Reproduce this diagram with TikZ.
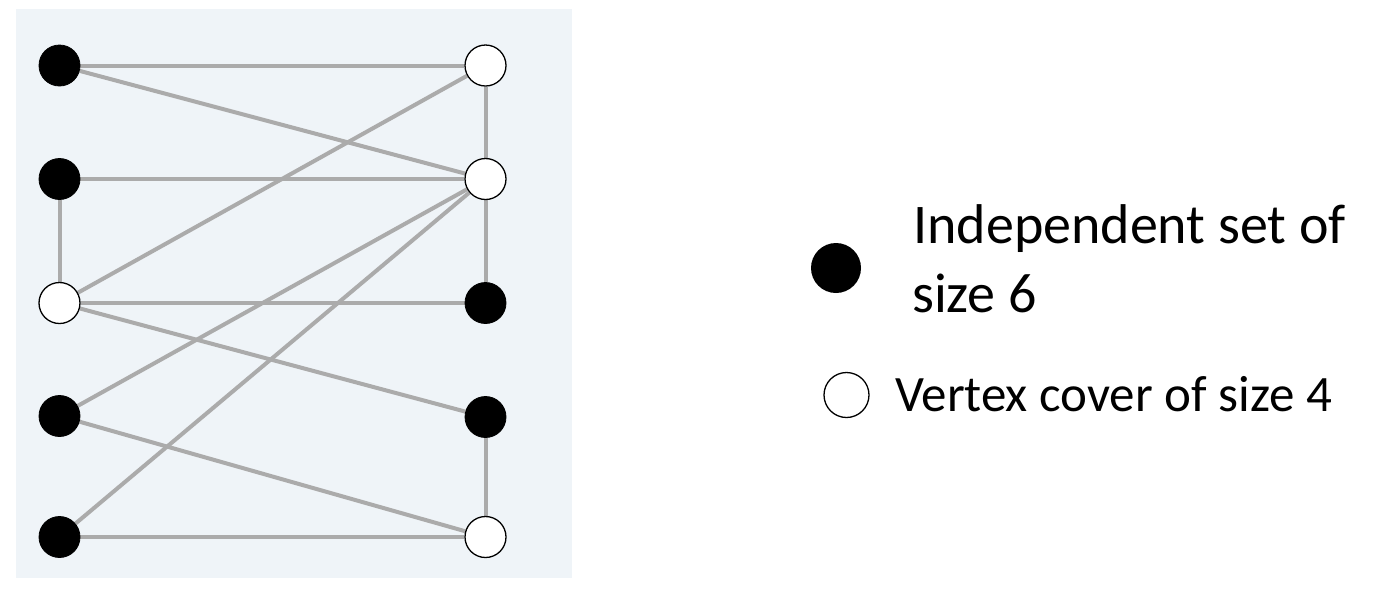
\documentclass[tikz,border=0pt]{standalone}
\usepackage{fontspec}
\setmainfont{Carlito}
\usetikzlibrary{backgrounds}
\definecolor{panelbg}{HTML}{EFF4F8}
\definecolor{edgegray}{HTML}{ABABAB}
\tikzset{
  blackv/.style={circle,fill=black,draw=black,line width=0.8pt,minimum size=41pt,inner sep=0pt},
  whitev/.style={circle,fill=white,draw=black,line width=1.3pt,minimum size=41pt,inner sep=0pt},
  edge/.style={draw=edgegray,line width=4pt},
  legtext/.style={font=\fontsize{56}{67}\selectfont,anchor=base west,inner sep=0pt},
  legtextsmall/.style={font=\fontsize{51}{61}\selectfont,anchor=base west,inner sep=0pt}
}
\begin{document}
\begin{tikzpicture}[x=1pt,y=-1pt]
\useasboundingbox (0,0) rectangle (1382,590);
\begin{scope}[on background layer]
\fill[panelbg] (16,9) rectangle (572,578);
\end{scope}
% left column
\node[blackv] (L1) at (59.5,65.5) {};
\node[blackv] (L2) at (59.5,179) {};
\node[whitev] (L3) at (59.5,303) {};
\node[blackv] (L4) at (59.5,416) {};
\node[blackv] (L5) at (59.5,537) {};
% right column
\node[whitev] (R1) at (485.5,65.5) {};
\node[whitev] (R2) at (485.5,179) {};
\node[blackv] (R3) at (485.5,303) {};
\node[blackv] (R4) at (485.5,417) {};
\node[whitev] (R5) at (485.5,537) {};
\begin{scope}[on background layer]
\draw[edge] (L1) -- (R1);
\draw[edge] (L1) -- (R2);
\draw[edge] (R1) -- (R2);
\draw[edge] (L2) -- (R2);
\draw[edge] (L2) -- (L3);
\draw[edge] (L3) -- (R1);
\draw[edge] (L3) -- (R3);
\draw[edge] (R2) -- (R3);
\draw[edge] (L3) -- (R4);
\draw[edge] (L4) -- (R2);
\draw[edge] (L5) -- (R2);
\draw[edge] (L4) -- (R5);
\draw[edge] (R4) -- (R5);
\draw[edge] (L5) -- (R5);
\end{scope}
% legend
\node[circle,fill=black,minimum size=50pt,inner sep=0pt] (legI) at (836,268) {};
\node[legtext] (legIt1) at (913,243) {Independent set of};
\node[legtext] (legIt2) at (912,312) {size 6};
\node[circle,fill=white,draw=black,line width=1.3pt,minimum size=45pt,inner sep=0pt] (legV) at (846.5,395) {};
\node[legtextsmall] (legVt) at (895,411) {Vertex cover of size 4};
\end{tikzpicture}
\end{document}
